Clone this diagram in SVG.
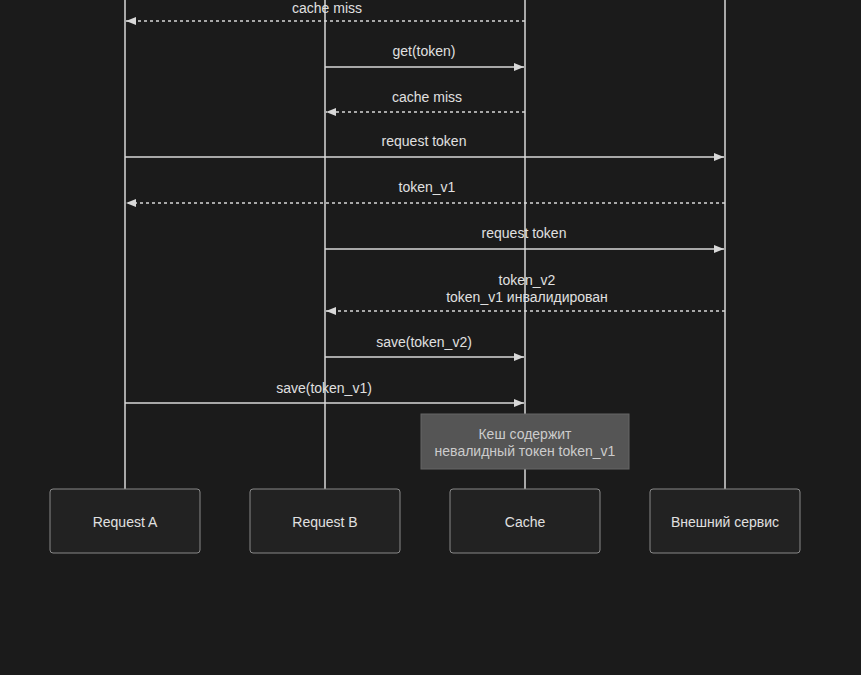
<svg xmlns="http://www.w3.org/2000/svg" width="861" height="675" viewBox="0 0 861 675">
<style>
text{font-family:"Liberation Sans",Arial,sans-serif;font-size:14px;fill:#e0e0e0;text-anchor:middle}
.life{stroke:#d8d8d8;stroke-width:1.5}
.m{stroke:#d8d8d8;stroke-width:1.3;fill:none;marker-end:url(#a)}
.d{stroke-dasharray:3,3}
.box{fill:#222;stroke:#888;stroke-width:1}
.note{fill:#555;stroke:#666}
</style>
<defs><marker id="a" markerWidth="10" markerHeight="8" refX="10" refY="4" orient="auto" markerUnits="userSpaceOnUse"><path d="M0,0L10,4L0,8z" fill="#d8d8d8"/></marker></defs>
<rect width="861" height="675" fill="#1b1b1b"/>
<g id="lifelines">
<line class="life" x1="125" y1="0" x2="125" y2="489"/>
<line class="life" x1="325" y1="0" x2="325" y2="489"/>
<line class="life" x1="525" y1="0" x2="525" y2="489"/>
<line class="life" x1="725" y1="0" x2="725" y2="489"/>
</g>
<g id="connectors">
<line class="m d" x1="525" y1="21" x2="126" y2="21"/><text x="327" y="13">cache miss</text>
<line class="m" x1="325" y1="67" x2="524" y2="67"/><text x="424" y="56">get(token)</text>
<line class="m d" x1="525" y1="112" x2="326" y2="112"/><text x="427" y="102">cache miss</text>
<line class="m" x1="125" y1="157" x2="724" y2="157"/><text x="424" y="146">request token</text>
<line class="m d" x1="725" y1="203" x2="126" y2="203"/><text x="427" y="192">token_v1</text>
<line class="m" x1="325" y1="249" x2="724" y2="249"/><text x="524" y="238">request token</text>
<line class="m d" x1="725" y1="311" x2="326" y2="311"/><text x="527" y="285">token_v2</text><text x="527" y="302">token_v1 инвалидирован</text>
<line class="m" x1="325" y1="357" x2="524" y2="357"/><text x="424" y="347">save(token_v2)</text>
<line class="m" x1="125" y1="403" x2="524" y2="403"/><text x="324" y="393">save(token_v1)</text>
</g>
<g id="note"><rect class="note" x="421" y="414" width="208" height="55"/><text x="525" y="439" style="fill:#ccc">Кеш содержит</text><text x="525" y="456" style="fill:#ccc">невалидный токен token_v1</text></g>
<g id="requestA"><rect class="box" x="50" y="489" width="150" height="64" rx="3"/><text x="125" y="527">Request A</text></g>
<g id="requestB"><rect class="box" x="250" y="489" width="150" height="64" rx="3"/><text x="325" y="527">Request B</text></g>
<g id="cache"><rect class="box" x="450" y="489" width="150" height="64" rx="3"/><text x="525" y="527">Cache</text></g>
<g id="service"><rect class="box" x="650" y="489" width="150" height="64" rx="3"/><text x="725" y="527">Внешний сервис</text></g>
</svg>
